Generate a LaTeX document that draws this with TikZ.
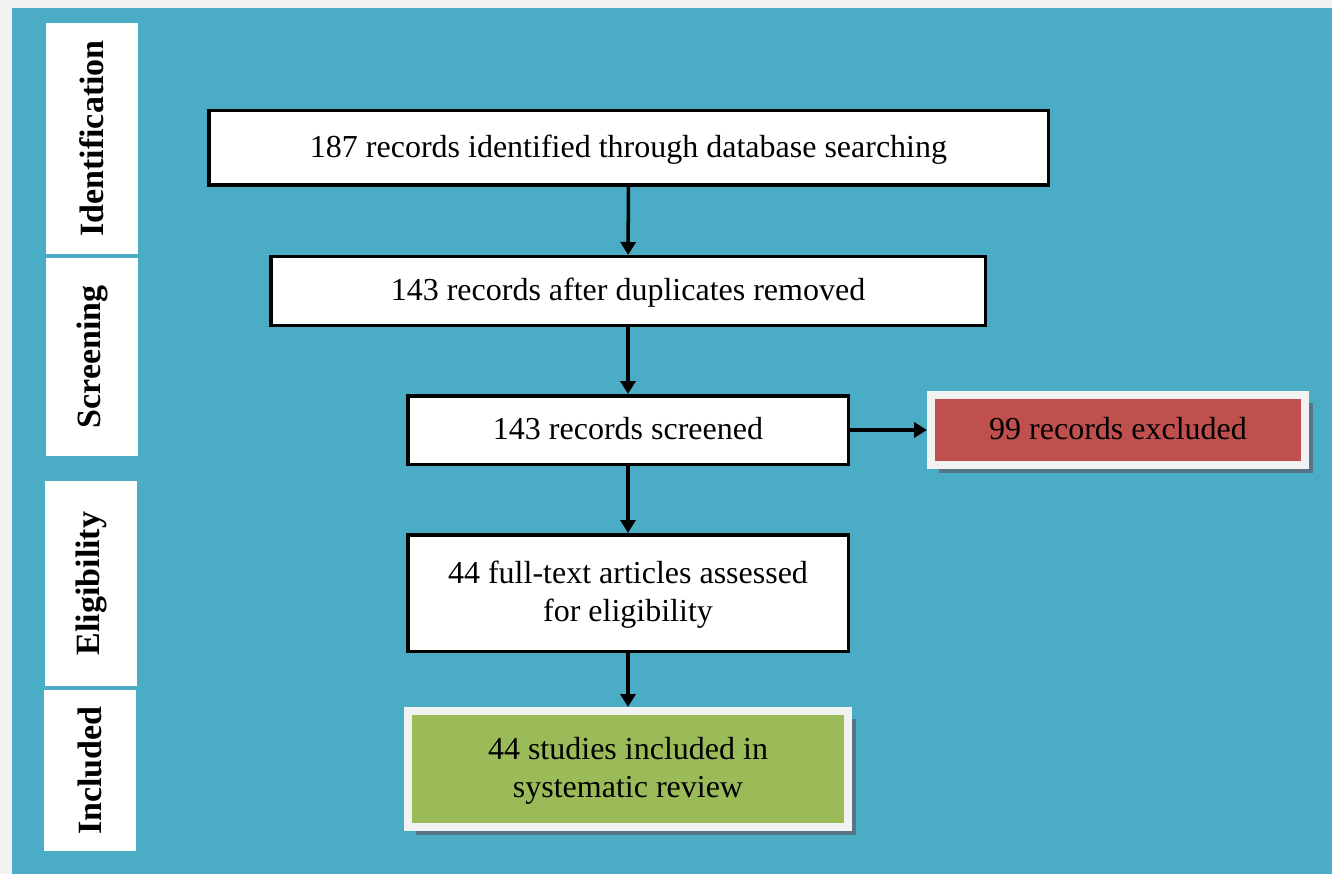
\documentclass[tikz,border=0pt]{standalone}
\usepackage{fontspec}
\setmainfont{Liberation Serif}
\usetikzlibrary{arrows.meta,shadows}
\definecolor{bgblue}{HTML}{4BACC6}
\definecolor{framegray}{HTML}{F2F2F2}
\definecolor{exclred}{HTML}{C0504D}
\definecolor{inclgreen}{HTML}{9BBB59}
\definecolor{shadowcol}{RGB}{86,118,135}
\tikzset{
  stage/.style={fill=white, rotate=90, inner sep=0pt, minimum height=92pt, font=\fontsize{34}{40}\selectfont\bfseries},
  flowbox/.style={draw=black, fill=white, line width=3.5pt, inner sep=0pt, align=center, text depth=0.4em, font=\fontsize{32}{38}\selectfont},
  framed/.style={draw=framegray, line width=8pt, inner sep=0pt, align=center, text depth=0.4em, font=\fontsize{32}{38}\selectfont,
    drop shadow={shadow xshift=8pt, shadow yshift=-8pt, fill=shadowcol, opacity=1}},
  flowarrow/.style={line width=3.5pt, -{Triangle[width=15pt,length=13pt]}}
}
\begin{document}
\begin{tikzpicture}[x=1pt, y=-1pt]
\fill[framegray] (0,0) rectangle (1332,874);
\fill[bgblue] (12,8) rectangle (1332,874);
% stages
\node[stage, minimum width=231pt] (ident) at (92,138.5) {Identification};
\node[stage, minimum width=198pt] (screen) at (92,357) {Screening};
\node[stage, minimum width=205pt] (elig) at (91,583.5) {Eligibility};
\node[stage, minimum width=161pt] (incl) at (90,770.5) {Included};
% flow
\node[flowbox, minimum width=839.5pt, minimum height=74.5pt] (found) at (628.5,148) {187 records identified through database searching};
\node[flowbox, minimum width=714.5pt, minimum height=68.5pt] (dedup) at (628,291) {143 records after duplicates removed};
\node[flowbox, minimum width=440.5pt, minimum height=68.5pt] (screened) at (628,430) {143 records screened};
\node[flowbox, minimum width=440.5pt, minimum height=116.5pt] (fulltext) at (628,593) {44 full-text articles assessed\\for eligibility};
\node[framed, fill=inclgreen, minimum width=440pt, minimum height=116pt] (review) at (628,769) {44 studies included in\\systematic review};
\node[framed, fill=exclred, minimum width=374pt, minimum height=70pt] (excluded) at (1118,430) {99 records excluded};
\draw[flowarrow] (found) -- (dedup);
\draw[flowarrow] (dedup) -- (screened);
\draw[flowarrow] (screened) -- (fulltext);
\draw[flowarrow] (fulltext) -- (review);
\draw[flowarrow] (screened) -- (excluded);
\end{tikzpicture}
\end{document}
